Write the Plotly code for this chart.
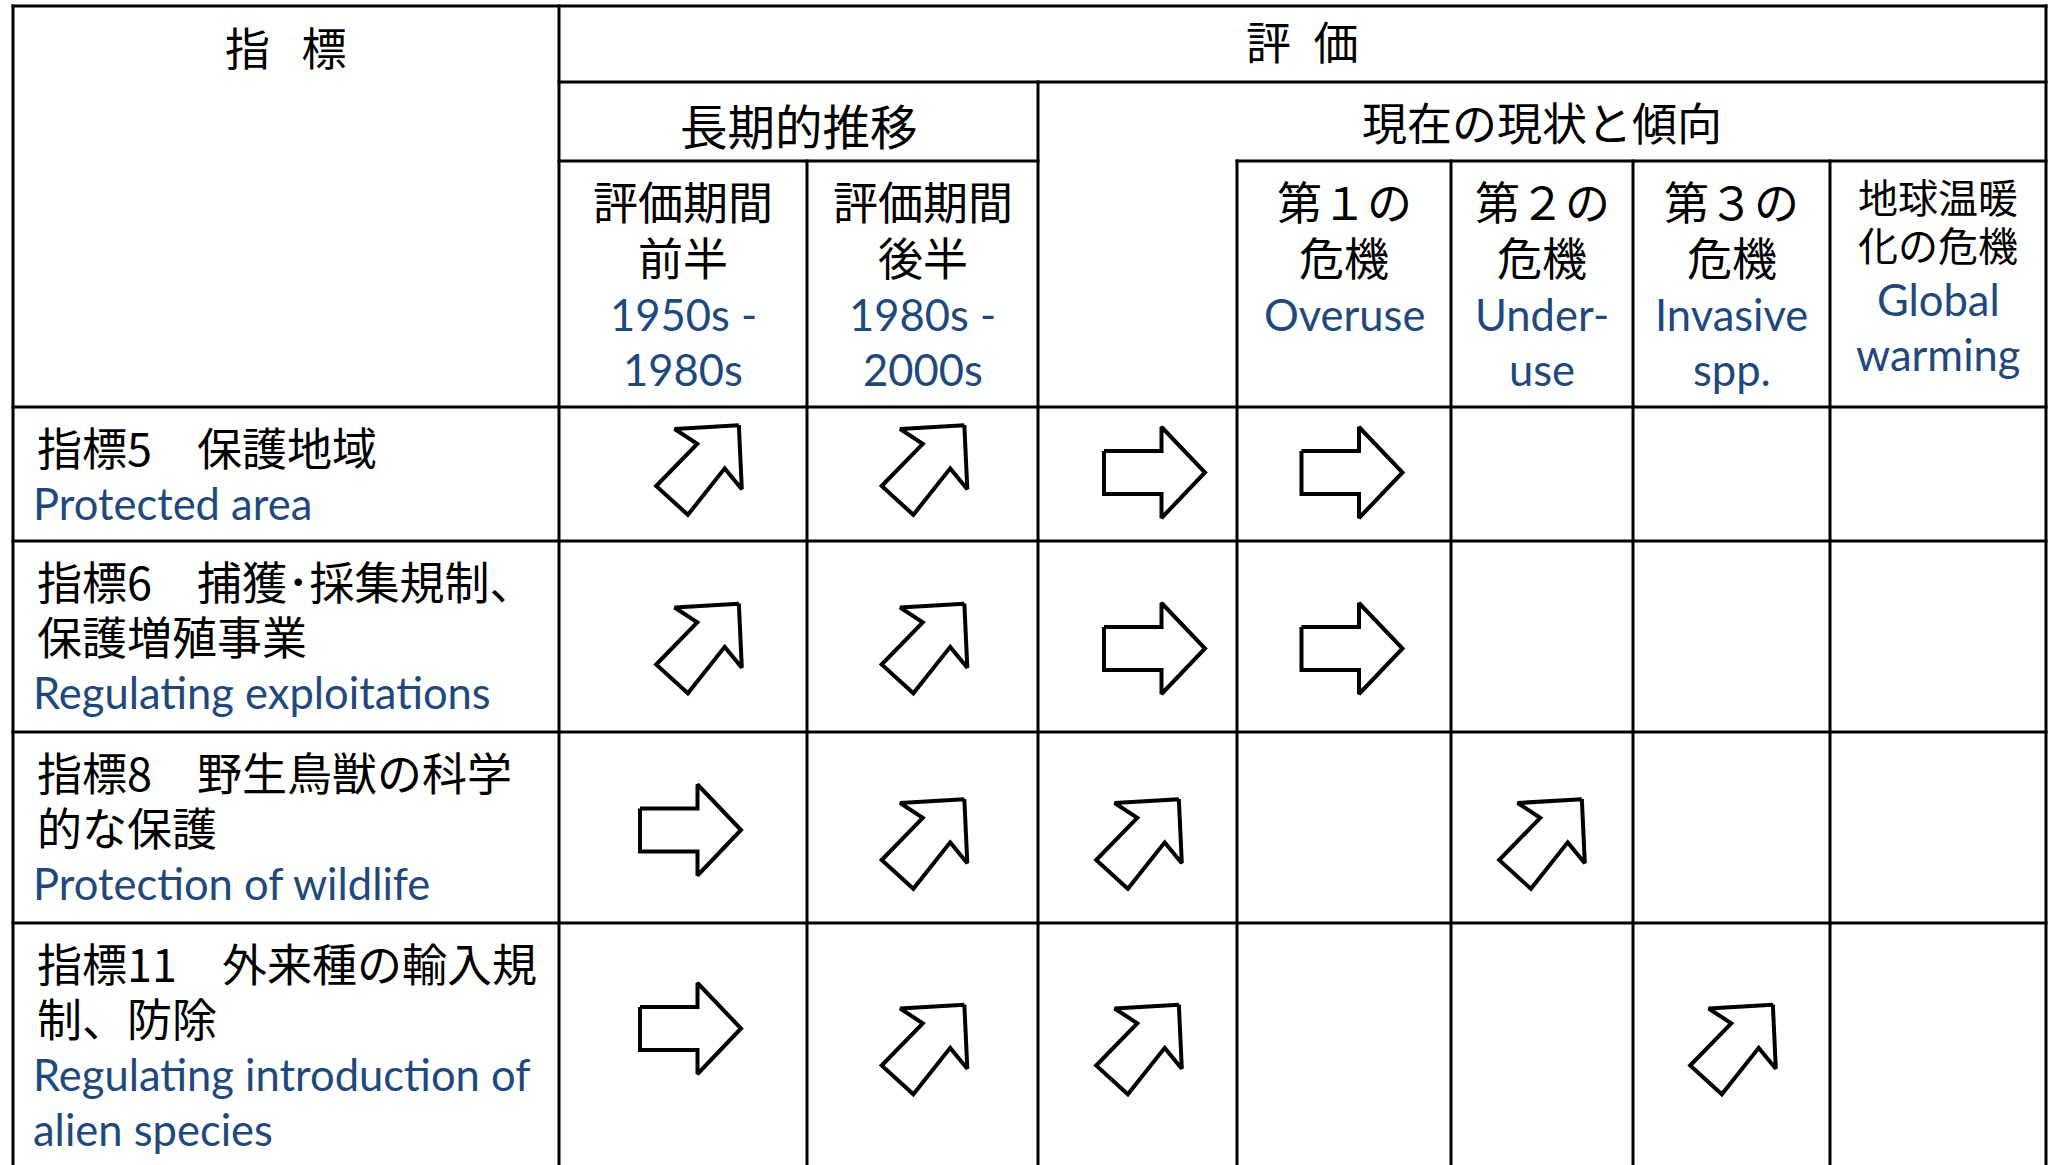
import plotly.graph_objects as go

# ---------------- data ----------------
INDICATOR_JP = [
    ["指標5　保護地域"],
    ["指標6　捕獲･採集規制、", "保護増殖事業"],
    ["指標8　野生鳥獣の科学", "的な保護"],
    ["指標11　外来種の輸入規", "制、防除"],
]
INDICATOR_EN = [
    ["Protected area"],
    ["Regulating exploitations"],
    ["Protection of wildlife"],
    ["Regulating introduction of", "alien species"],
]
COLUMN_JP = [["評価期間", "前半"], ["評価期間", "後半"], [], ["第１の", "危機"],
             ["第２の", "危機"], ["第３の", "危機"], ["地球温暖", "化の危機"]]
COLUMN_EN = [["1950s -", "1980s"], ["1980s -", "2000s"], [], ["Overuse"],
             ["Under-", "use"], ["Invasive", "spp."], ["Global", "warming"]]
HEADER_MAIN = "指\u2002\u2009標"
HEADER_EVAL = "評\u2002価"
HEADER_LONG = "長期的推移"
HEADER_NOW = "現在の現状と傾向"

# trend per indicator: "up" = improving (diagonal arrow), "flat" = stable (right arrow)
TREND_5 = ["up", "up", "flat", "flat", None, None, None]
TREND_6 = ["up", "up", "flat", "flat", None, None, None]
TREND_8 = ["flat", "up", "up", None, "up", None, None]
TREND_11 = ["flat", "up", "up", None, None, "up", None]
TRENDS = [TREND_5, TREND_6, TREND_8, TREND_11]

# ---------------- layout constants ----------------
W, H = 2053, 1165
LEFT, RIGHT, TOP = 13, 2046, 6
COL_EDGES = [559, 807, 1038, 1237, 1451, 1633, 1830, 2046]
ROW_EDGES = [407, 541, 732, 923, 1170]
BAND1, BAND2 = 82, 161
COL_DX_FLAT = [7.5, 0, 17, 8, 0, 0, 0]
COL_DX_UP = [16, 2, 1.5, 0, 0, 1.5, 0]
ROW_DY_FLAT = [-1.5, 12, 2.5, -18]
ROW_DY_UP_EXTRA = [-2.5, 0, 14, 21]
JP_FONT = "Noto Sans CJK JP"
EN_FONT = "Lato"
BLUE = "#1F497D"
JP_SIZE = 45
EN_SIZE = 43.5
LW = 3
DIAG_SCALE = 0.96

RIGHT_SHAPE = [(-50.5, -21.5), (7, -21.5), (7, -45.5), (50.5, 0), (7, 45.5), (7, 21.5), (-50.5, 21.5)]
DIAG_SHAPE = [(41.5, -46.7), (44.6, 20), (26.8, -1.7), (-11.6, 46.7), (-44.6, 16.7), (-1.8, -27.3), (-25.4, -42.7)]

fig = go.Figure()

# ---------------- arrows ----------------
for r, row in enumerate(TRENDS):
    rc = (ROW_EDGES[r] + ROW_EDGES[r + 1]) / 2 + ROW_DY_FLAT[r]
    for c, t in enumerate(row):
        if not t:
            continue
        cc = (COL_EDGES[c] + COL_EDGES[c + 1]) / 2
        if t == "up":
            cx, cy = cc + COL_DX_UP[c], rc + ROW_DY_UP_EXTRA[r]
            shape = [(p[0] * DIAG_SCALE, p[1] * DIAG_SCALE) for p in DIAG_SHAPE]
        else:
            cx, cy = cc + COL_DX_FLAT[c], rc
            shape = RIGHT_SHAPE
        xs = [cx + p[0] for p in shape] + [cx + shape[0][0]]
        ys = [cy + p[1] for p in shape] + [cy + shape[0][1]]
        fig.add_trace(go.Scatter(x=xs, y=ys, mode="lines", fill="toself",
                                 fillcolor="white", line=dict(color="black", width=4),
                                 hoverinfo="skip", showlegend=False))

# ---------------- grid lines ----------------
shapes = []
def hline(y, x0, x1):
    shapes.append(dict(type="line", xref="x", yref="y", x0=x0 - 1.5, x1=x1 + 1.5, y0=y, y1=y,
                       line=dict(color="black", width=LW)))
def vline(x, y0, y1):
    shapes.append(dict(type="line", xref="x", yref="y", x0=x, x1=x, y0=y0 - 1.5, y1=y1,
                       line=dict(color="black", width=LW)))

hline(TOP, LEFT, RIGHT)
hline(BAND1, COL_EDGES[0], RIGHT)
hline(BAND2, COL_EDGES[0], COL_EDGES[2])
hline(BAND2, COL_EDGES[3], RIGHT)
for y in ROW_EDGES[:-1]:
    hline(y, LEFT, RIGHT)
vline(LEFT, TOP, H)
vline(COL_EDGES[0], TOP, H)
vline(COL_EDGES[1], BAND2, H)
vline(COL_EDGES[2], BAND1, H)
for x in COL_EDGES[3:-1]:
    vline(x, BAND2, H)
vline(RIGHT, TOP, H)

# ---------------- text ----------------
ann = []
def txt(x, y, s, font, size, color="black", xanchor="center"):
    ann.append(dict(x=x, y=y, xref="x", yref="y", text=s, showarrow=False,
                    xanchor=xanchor, yanchor="middle",
                    font=dict(family=font, size=size, color=color)))

txt((LEFT + COL_EDGES[0]) / 2, (TOP + BAND1) / 2 + 2, HEADER_MAIN, JP_FONT, JP_SIZE)
txt((COL_EDGES[0] + RIGHT) / 2, (TOP + BAND1) / 2 - 4, HEADER_EVAL, JP_FONT, JP_SIZE)
txt((COL_EDGES[0] + COL_EDGES[2]) / 2, (BAND1 + BAND2) / 2 + 3, HEADER_LONG, JP_FONT, 47.5)
txt((COL_EDGES[2] + RIGHT) / 2, (BAND1 + BAND2) / 2, HEADER_NOW, JP_FONT, JP_SIZE)

# column sub-headers
for c in range(7):
    cx = (COL_EDGES[c] + COL_EDGES[c + 1]) / 2
    small = c == 6
    y = 196 if small else 200
    for s in COLUMN_JP[c]:
        txt(cx, y, s, JP_FONT, 40 if small else JP_SIZE)
        y += 48 if small else 56
    y += 7 if small else 2
    for s in COLUMN_EN[c]:
        txt(cx, y, s, EN_FONT, EN_SIZE, BLUE)
        y += 55

# row labels
for r in range(4):
    y = ROW_EDGES[r] + 39
    for s in INDICATOR_JP[r]:
        txt(35, y, s, JP_FONT, JP_SIZE, xanchor="left")
        y += 55
    y += 2
    for s in INDICATOR_EN[r]:
        txt(31, y, s, EN_FONT, EN_SIZE, BLUE, xanchor="left")
        y += 55

fig.update_layout(
    width=W, height=H, margin=dict(l=0, r=0, t=0, b=0),
    paper_bgcolor="white", plot_bgcolor="white", showlegend=False,
    xaxis=dict(range=[0, W], visible=False, fixedrange=True),
    yaxis=dict(range=[H, 0], visible=False, fixedrange=True),
    shapes=shapes, annotations=ann,
)
fig.write_html("out.html", config={"displayModeBar": False},
               post_script="document.body.style.margin='0';document.body.style.overflow='hidden';")
